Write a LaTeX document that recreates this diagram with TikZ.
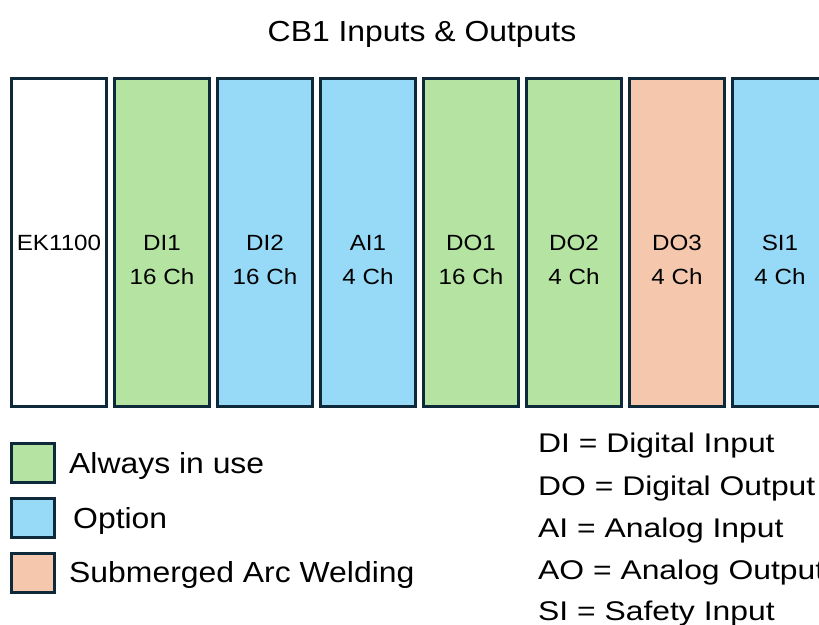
\documentclass[tikz,border=0pt]{standalone}
\usepackage{fontspec}
\setmainfont{Liberation Sans}[FakeStretch=1.1]
\newfontfamily\abbrfont{Liberation Sans}[FakeStretch=1.18]
\definecolor{edge}{HTML}{0E2A3A}
\definecolor{usegreen}{HTML}{B5E4A2}
\definecolor{optblue}{HTML}{97DAF7}
\definecolor{sawpeach}{HTML}{F5C8AE}
\begin{document}
\begin{tikzpicture}[x=1pt,y=-1pt,
  module/.style={draw=edge, line width=3pt, minimum width=95pt,
    minimum height=328pt, inner sep=0pt, outer sep=0pt},
  swatch/.style={draw=edge, line width=3pt, minimum width=43pt,
    minimum height=39pt, inner sep=0pt, outer sep=0pt},
  modtext/.style={anchor=base, inner sep=0pt, text=black,
    font=\fontsize{22}{26}\selectfont},
  legtext/.style={anchor=base west, inner sep=0pt, text=black,
    font=\fontsize{29}{34}\selectfont},
  abbrtext/.style={anchor=base west, inner sep=0pt, text=black,
    font=\abbrfont\fontsize{27}{32}\selectfont}]
\useasboundingbox (0,0) rectangle (819,624);
\clip (0,0) rectangle (819,624);
\fill[white] (0,0) rectangle (819,624);

% title
\node[anchor=base, inner sep=0pt, font=\fontsize{29}{34}\selectfont] (title) at (422,41) {CB1 Inputs \& Outputs};

% modules of the terminal rail
\node[module, fill=white]    (ek)  at (59,242.5)  {};
\node[module, fill=usegreen] (di1) at (162,242.5) {};
\node[module, fill=optblue]  (di2) at (265,242.5) {};
\node[module, fill=optblue]  (ai1) at (368,242.5) {};
\node[module, fill=usegreen] (do1) at (471,242.5) {};
\node[module, fill=usegreen] (do2) at (574,242.5) {};
\node[module, fill=sawpeach] (do3) at (677,242.5) {};
\node[module, fill=optblue]  (si1) at (780,242.5) {};

\node[modtext] (ekA)  at (59,250)  {EK1100};
\node[modtext] (di1A) at (162,250) {DI1};
\node[modtext] (di1B) at (162,284) {16 Ch};
\node[modtext] (di2A) at (265,250) {DI2};
\node[modtext] (di2B) at (265,284) {16 Ch};
\node[modtext] (ai1A) at (368,250) {AI1};
\node[modtext] (ai1B) at (368,284) {4 Ch};
\node[modtext] (do1A) at (471,250) {DO1};
\node[modtext] (do1B) at (471,284) {16 Ch};
\node[modtext] (do2A) at (574,250) {DO2};
\node[modtext] (do2B) at (574,284) {4 Ch};
\node[modtext] (do3A) at (677,250) {DO3};
\node[modtext] (do3B) at (677,284) {4 Ch};
\node[modtext] (si1A) at (780,250) {SI1};
\node[modtext] (si1B) at (780,284) {4 Ch};

% colour legend
\node[swatch, fill=usegreen] (swA) at (33,463)   {};
\node[swatch, fill=optblue]  (swO) at (33,517.5) {};
\node[swatch, fill=sawpeach] (swS) at (33,572.5) {};
\node[legtext] (legA) at (69,473) {Always in use};
\node[legtext] (legO) at (73,528) {Option};
\node[legtext] (legS) at (69,582) {Submerged Arc Welding};

% abbreviations
\node[abbrtext] (abDI) at (538,452.5) {DI = Digital Input};
\node[abbrtext] (abDO) at (538,495)   {DO = Digital Output};
\node[abbrtext] (abAI) at (538,537)   {AI = Analog Input};
\node[abbrtext] (abAO) at (538,579)   {AO = Analog Output};
\node[abbrtext] (abSI) at (538,620)   {SI = Safety Input};
\end{tikzpicture}
\end{document}
